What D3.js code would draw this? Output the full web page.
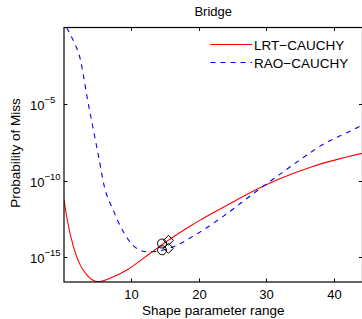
<!DOCTYPE html>
<html>
<head>
<meta charset="utf-8">
<script src="https://cdn.jsdelivr.net/npm/d3@7"></script>
<style>
  body { margin: 0; background: #fff; }
  svg { display: block; font-family: "Liberation Sans", Arial, sans-serif; }
</style>
</head>
<body>
<svg id="chart"></svg>
<script>
// values (y given as log10 of the probability)
var lrtX = [0.1, 0.5, 1.5, 2.5, 3.5, 5.2, 6.9, 9.4, 12.8, 15.8, 18.8, 20, 23.7, 28.2, 32.1, 37.0, 44.3];
var lrtLog = [-11.23, -12.36, -14.31, -15.5, -16.15, -16.58, -16.36, -15.82, -14.74, -13.8, -12.95, -12.63, -11.72, -10.65, -9.85, -9.05, -8.2];
var raoX = [0.5, 1.2, 1.8, 2.5, 3.0, 3.5, 4.5, 5.3, 6.0, 7.4, 8.9, 10.9, 12.6, 14.6, 16.8, 18.8, 20, 23.7, 28.2, 32.1, 35.6, 38.5, 42, 44.3];
var raoLog = [0.0, -0.6, -1.15, -2.05, -3.2, -4.5, -6.8, -8.6, -10.25, -11.93, -13.34, -14.42, -14.64, -14.53, -14.2, -13.72, -13.4, -12.3, -10.8, -9.55, -8.45, -7.6, -6.85, -6.35];
var circleX = [14.6, 14.6];
var circleLog = [-14.09, -14.53];
var diamondX = [15.55, 15.55];
var diamondLog = [-13.88, -14.4];
var xTicks = [10, 20, 30, 40];
var yTickExp = [-5, -10, -15];
var seriesNames = ["LRT\u2212CAUCHY", "RAO\u2212CAUCHY"];

var width = 362, height = 319;
var pad = { left: 64, top: 27.5, right: 362.5, bottom: 282 };

var svg = d3.select("#chart").attr("width", width).attr("height", height);

var xscale = d3.scaleLinear().domain([0.1, 44.25]).range([pad.left, pad.right]);
var yscale = d3.scaleLog().domain([Math.pow(10, -16.6), 1]).range([pad.bottom, pad.top]);

function pts(xs, logs) {
  return xs.map(function (d, i) { return { x: d, y: Math.pow(10, logs[i]) }; });
}

svg.append("clipPath").attr("id", "plotclip")
  .append("rect")
  .attr("x", pad.left).attr("y", pad.top)
  .attr("width", pad.right - pad.left).attr("height", pad.bottom - pad.top);

var line = d3.line()
  .x(function (d) { return xscale(d.x); })
  .y(function (d) { return yscale(d.y); })
  .curve(d3.curveMonotoneX);

var plot = svg.append("g").attr("clip-path", "url(#plotclip)");

plot.append("path")
  .attr("fill", "none")
  .attr("stroke", "#ff0000")
  .attr("stroke-width", 1.1)
  .attr("d", line(pts(lrtX, lrtLog)));

plot.append("path")
  .attr("fill", "none")
  .attr("stroke", "#0000ff")
  .attr("stroke-width", 1.1)
  .attr("stroke-dasharray", "5,5")
  .attr("d", line(pts(raoX, raoLog)));

// markers
svg.selectAll(".circ")
  .data(pts(circleX, circleLog))
  .enter()
  .append("circle")
  .attr("cx", function (d) { return xscale(d.x); })
  .attr("cy", function (d) { return yscale(d.y); })
  .attr("r", 4.5)
  .attr("fill", "none")
  .attr("stroke", "#000")
  .attr("stroke-width", 1);

svg.selectAll(".diam")
  .data(pts(diamondX, diamondLog))
  .enter()
  .append("path")
  .attr("d", function (d) {
    var cx = xscale(d.x), cy = yscale(d.y), s = 5;
    return "M" + cx + "," + (cy - s) + "L" + (cx + s) + "," + cy +
      "L" + cx + "," + (cy + s) + "L" + (cx - s) + "," + cy + "Z";
  })
  .attr("fill", "none")
  .attr("stroke", "#000")
  .attr("stroke-width", 1);

// box and ticks
var axisColor = "#000";
svg.append("rect")
  .attr("x", pad.left).attr("y", pad.top)
  .attr("width", pad.right - pad.left).attr("height", pad.bottom - pad.top)
  .attr("fill", "none")
  .attr("stroke", axisColor)
  .attr("stroke-width", 1.2);

var tickLen = 3.5;
xTicks.forEach(function (t) {
  var px = Math.round(xscale(t)) + 0.5;
  svg.append("line").attr("x1", px).attr("x2", px)
    .attr("y1", pad.bottom).attr("y2", pad.bottom - tickLen).attr("stroke", axisColor);
  svg.append("line").attr("x1", px).attr("x2", px)
    .attr("y1", pad.top).attr("y2", pad.top + tickLen).attr("stroke", axisColor);
  svg.append("text")
    .attr("x", px).attr("y", 299)
    .attr("text-anchor", "middle")
    .style("font-size", "13px")
    .text(t);
});

yTickExp.forEach(function (e) {
  var py = Math.round(yscale(Math.pow(10, e))) + 0.5;
  svg.append("line").attr("x1", pad.left).attr("x2", pad.left + tickLen)
    .attr("y1", py).attr("y2", py).attr("stroke", axisColor);
  svg.append("line").attr("x1", pad.right - 0.5).attr("x2", pad.right - tickLen)
    .attr("y1", py).attr("y2", py).attr("stroke", axisColor);
  var lab = svg.append("text")
    .attr("x", 30).attr("y", py + 5.5)
    .style("font-size", "13px");
  lab.append("tspan").text("10");
  lab.append("tspan")
    .attr("dy", -7.5)
    .style("font-size", "9.5px")
    .text("\u2212" + Math.abs(e));
});

// titles
svg.append("text")
  .attr("x", (pad.left + pad.right) / 2).attr("y", 16)
  .attr("text-anchor", "middle")
  .style("font-size", "13px")
  .text("Bridge");

svg.append("text")
  .attr("x", (pad.left + pad.right) / 2).attr("y", 315)
  .attr("text-anchor", "middle")
  .style("font-size", "13.5px")
  .text("Shape parameter range");

svg.append("text")
  .attr("text-anchor", "middle")
  .attr("transform", "translate(20," + 153 + ")rotate(-90)")
  .style("font-size", "13.5px")
  .text("Probability of Miss");

// legend
var legend = svg.append("g");
var legendY = [44.5, 62.5];
var legendColor = ["#ff0000", "#0000ff"];
var legendDash = [null, "5,5"];
seriesNames.forEach(function (name, i) {
  legend.append("line")
    .attr("x1", 210.5).attr("x2", 252)
    .attr("y1", legendY[i]).attr("y2", legendY[i])
    .attr("stroke", legendColor[i])
    .attr("stroke-width", 1.1)
    .attr("stroke-dasharray", legendDash[i]);
  legend.append("text")
    .attr("x", 254).attr("y", legendY[i] + 5)
    .style("font-size", "13.5px")
    .text(name);
});
</script>
</body>
</html>
